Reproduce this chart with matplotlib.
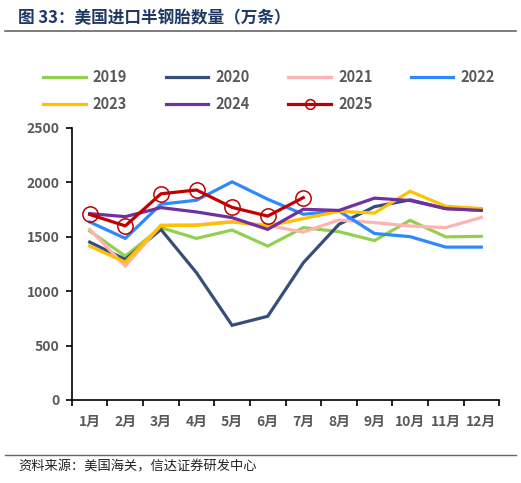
import matplotlib

matplotlib.use("Agg")
import matplotlib.pyplot as plt
from matplotlib.lines import Line2D

plt.rcParams["font.family"] = ["Noto Sans CJK SC", "DejaVu Sans"]

MONTHS = ["1月", "2月", "3月", "4月", "5月", "6月", "7月", "8月", "9月", "10月", "11月", "12月"]

Y2019 = [1553, 1322, 1584, 1485, 1562, 1414, 1584, 1547, 1465, 1651, 1499, 1504]
Y2020 = [1451, 1292, 1568, 1169, 686, 769, 1261, 1614, 1777, 1839, 1759, 1746]
Y2021 = [1568, 1230, 1605, 1610, 1640, 1605, 1543, 1654, 1630, 1599, 1584, 1678]
Y2022 = [1636, 1485, 1799, 1836, 2005, 1845, 1707, 1737, 1530, 1501, 1405, 1405]
Y2023 = [1414, 1267, 1605, 1605, 1636, 1599, 1667, 1734, 1718, 1918, 1780, 1760]
Y2024 = [1713, 1685, 1768, 1728, 1676, 1568, 1753, 1742, 1855, 1833, 1759, 1742]
Y2025 = [1705, 1600, 1895, 1930, 1770, 1690, 1860]

SERIES = [
    ("2019", Y2019, "#92D050"),
    ("2020", Y2020, "#34507A"),
    ("2021", Y2021, "#FFB2B2"),
    ("2022", Y2022, "#2E89FF"),
    ("2023", Y2023, "#FFC000"),
    ("2024", Y2024, "#7030A0"),
]

GRAY = "#595959"

fig = plt.figure(figsize=(5.21, 4.83), dpi=100)
ax = fig.add_axes([0.138, 0.172, 0.82, 0.563])

x = list(range(len(MONTHS)))
for name, vals, col in SERIES:
    ax.plot(x[: len(vals)], vals, color=col, lw=2.3, label=name, solid_joinstyle="miter")
ax.plot(x[: len(Y2025)], Y2025, color="#C00000", lw=2.3, marker="o", ms=11,
        mfc="none", mec="#C00000", mew=1.1, label="2025", zorder=5)

ax.set_xlim(-0.5, len(MONTHS) - 0.5)
ax.set_ylim(0, 2500)
ax.set_yticks(range(0, 2501, 500))
ax.set_xticks(x)
ax.set_xticklabels(MONTHS)
ax.set_xticks([i - 0.5 for i in range(len(MONTHS) + 1)], minor=True)
ax.tick_params(axis="x", which="major", length=0, pad=11)
ax.tick_params(axis="x", which="minor", length=4, width=1.2, direction="out")
ax.tick_params(axis="y", length=4, width=1.2, direction="out", pad=5)
for lab in ax.get_xticklabels() + ax.get_yticklabels():
    lab.set_fontsize(10)
    lab.set_fontweight("bold")
    lab.set_color(GRAY)
for s in ("top", "right"):
    ax.spines[s].set_visible(False)
for s in ("left", "bottom"):
    ax.spines[s].set_linewidth(1.2)

handles, labels = ax.get_legend_handles_labels()
handles[-1] = Line2D([], [], color="#C00000", lw=2.3, marker="o", ms=7, mfc="none",
                     mec="#C00000", mew=1.1)
# legend fills column-wise; reorder so rows read 2019..2022 / 2023..2025
order = [0, 4, 1, 5, 2, 6, 3]
leg = fig.legend([handles[i] for i in order], [labels[i] for i in order],
                 ncol=4, loc="upper left",
                 bbox_to_anchor=(0.058, 0.885), frameon=False,
                 handlelength=2.9, handletextpad=0.5, columnspacing=2.65,
                 labelspacing=0.75, prop={"size": 10.5, "weight": "bold"})
for t in leg.get_texts():
    t.set_color(GRAY)

fig.text(0.035, 0.963, "图 33：美国进口半钢胎数量（万条）", fontsize=12, fontweight="bold",
         color="#1F3864", va="center")
fig.add_artist(Line2D([0.01, 0.99], [0.936, 0.936], color="#666666", lw=1.2))
fig.add_artist(Line2D([0.01, 0.99], [0.058, 0.058], color="#666666", lw=1.0))
fig.text(0.035, 0.033, "资料来源：美国海关，信达证券研发中心", fontsize=9.5, color="#222222",
         va="center")

fig.savefig("out.png", dpi=100)
